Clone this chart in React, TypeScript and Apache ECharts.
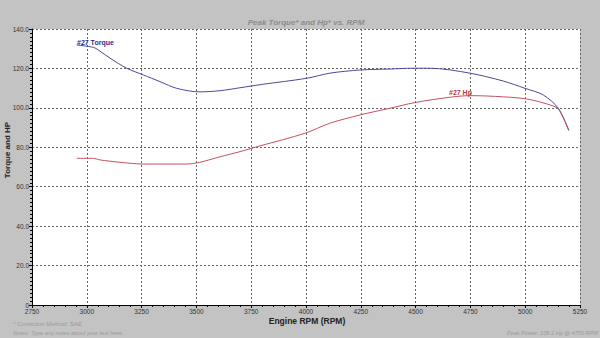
import React, { useEffect, useRef } from "react";
import * as echarts from "echarts";

const torqueRpm = [2954, 3030, 3052, 3106, 3182, 3258, 3334, 3410, 3516, 3608, 3699, 3800, 4003, 4109, 4246, 4383, 4488, 4566, 4748, 4900, 4999, 5083, 5151, 5200];
const torqueVal = [131.9, 130.7, 129.4, 125.2, 120.1, 116.7, 113.3, 109.9, 108.1, 108.7, 110.2, 111.9, 115.0, 117.6, 119.2, 119.7, 120.1, 120.1, 117.6, 113.6, 109.9, 106.5, 99.8, 88.4];
const hpRpm = [2954, 3030, 3060, 3151, 3258, 3456, 3516, 3608, 3699, 3790, 3995, 4109, 4246, 4383, 4497, 4657, 4748, 4900, 5007, 5098, 5151, 5197];
const hpVal = [74.4, 74.4, 73.6, 72.4, 71.5, 71.5, 72.4, 75.2, 77.8, 80.7, 87.1, 92.2, 96.4, 99.8, 102.7, 105.4, 106.2, 105.6, 104.5, 102.0, 99.4, 88.8];
const xTicks = [2750, 5250, 250];
const yTicks = [0, 140, 20];

const FONT = "Liberation Sans, Arial, sans-serif";

export default function App() {
  const ref = useRef<HTMLDivElement>(null);
  useEffect(() => {
    if (!ref.current) return;
    const chart = echarts.init(ref.current, null, { renderer: "svg" });
    const torque = torqueRpm.map((r, i) => [r, torqueVal[i]]);
    const hp = hpRpm.map((r, i) => [r, hpVal[i]]);
    chart.setOption({
      animation: false,
      backgroundColor: "#c3c3c3",
      textStyle: { fontFamily: FONT },
      grid: { left: 32, right: 20, top: 29, bottom: 33, show: true, backgroundColor: "#ffffff", borderWidth: 0 },
      xAxis: {
        type: "value",
        min: xTicks[0],
        max: xTicks[1],
        interval: xTicks[2],
        axisLine: { show: true, onZero: false, lineStyle: { color: "#000", width: 1 } },
        axisTick: { show: true, length: 3, lineStyle: { color: "#000" } },
        minorTick: { show: true, splitNumber: 5, length: 2, lineStyle: { color: "#000" } },
        axisLabel: { fontSize: 6.5, color: "#333", margin: 3, fontFamily: FONT, formatter: (v: number) => String(v) },
        splitLine: { show: true, lineStyle: { color: "#666", type: [2, 2], width: 1 } },
      },
      yAxis: {
        type: "value",
        min: yTicks[0],
        max: yTicks[1],
        interval: yTicks[2],
        axisLine: { show: true, lineStyle: { color: "#000", width: 1 } },
        axisTick: { show: true, length: 3, lineStyle: { color: "#000" } },
        minorTick: { show: true, splitNumber: 10, length: 2, lineStyle: { color: "#000" } },
        axisLabel: {
          fontSize: 6.5,
          color: "#333",
          margin: 3,
          fontFamily: FONT,
          formatter: (v: number) => (v === 0 ? "0" : v.toFixed(1)),
        },
        splitLine: { show: true, lineStyle: { color: "#666", type: [2, 2], width: 1 } },
      },
      series: [
        {
          name: "#27 Torque",
          type: "line",
          data: torque,
          smooth: 0.3,
          symbol: "none",
          lineStyle: { color: "#4a4a9c", width: 1 },
        },
        {
          name: "#27 Hp",
          type: "line",
          data: hp,
          smooth: 0.3,
          symbol: "none",
          lineStyle: { color: "#c45060", width: 1 },
        },
      ],
      graphic: [
        { type: "text", x: 306, y: 22, style: { text: "Peak Torque* and Hp* vs. RPM", fill: "#8c8c8c", font: `italic bold 8px ${FONT}`, align: "center", verticalAlign: "middle" } },
        { type: "text", x: 77, y: 42, style: { text: "#27 Torque", fill: "#2c2c8c", font: `bold 7px ${FONT}`, align: "left", verticalAlign: "middle" } },
        { type: "text", x: 449, y: 92, style: { text: "#27 Hp", fill: "#c03444", font: `bold 7px ${FONT}`, align: "left", verticalAlign: "middle" } },
        { type: "text", x: 7, y: 150, rotation: Math.PI / 2, style: { text: "Torque and HP", fill: "#222", font: `bold 8px ${FONT}`, align: "center", verticalAlign: "middle" } },
        { type: "text", x: 307, y: 321, style: { text: "Engine RPM (RPM)", fill: "#222", font: `bold 8.5px ${FONT}`, align: "center", verticalAlign: "middle" } },
        { type: "text", x: 13, y: 324, style: { text: "* Correction Method: SAE", fill: "#9a9a9a", font: `italic 6px ${FONT}`, align: "left", verticalAlign: "middle" } },
        { type: "text", x: 13, y: 333, style: { text: "Notes: Type any notes about your test here.", fill: "#9a9a9a", font: `italic 5.7px ${FONT}`, align: "left", verticalAlign: "middle" } },
        { type: "text", x: 598, y: 333, style: { text: "Peak Power: 106.2 Hp @ 4750 RPM", fill: "#9a9a9a", font: `italic 5.6px ${FONT}`, align: "right", verticalAlign: "middle" } },
      ],
    });
    return () => chart.dispose();
  }, []);
  return <div ref={ref} style={{ width: 600, height: 338, position: "absolute", left: 0, top: 0 }} />;
}
